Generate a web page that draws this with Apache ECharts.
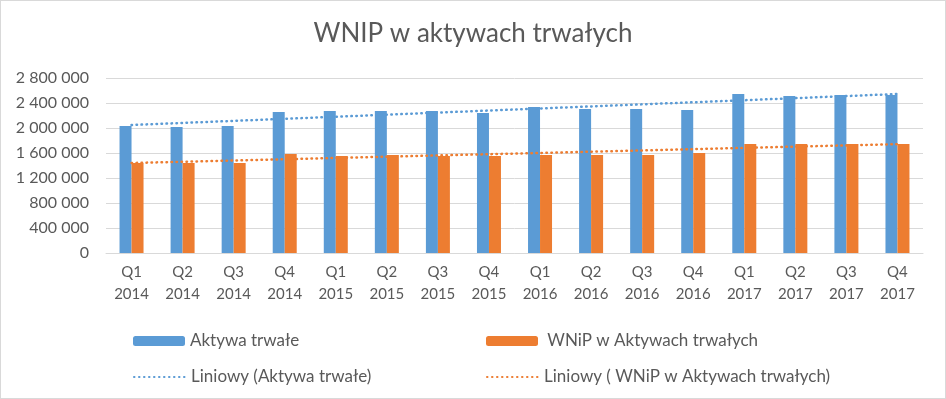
<!DOCTYPE html>
<html>
<head>
<meta charset="utf-8">
<script src="https://cdn.jsdelivr.net/npm/echarts@6/dist/echarts.min.js"></script>
<style>
html,body{margin:0;padding:0;background:#fff;}
#c{width:946px;height:399px;box-sizing:border-box;border:1px solid #D9D9D9;}
</style>
</head>
<body>
<div id="c"></div>
<script>
const categories = ['Q1\n2014','Q2\n2014','Q3\n2014','Q4\n2014','Q1\n2015','Q2\n2015','Q3\n2015','Q4\n2015','Q1\n2016','Q2\n2016','Q3\n2016','Q4\n2016','Q1\n2017','Q2\n2017','Q3\n2017','Q4\n2017'];
const aktywa = [2032000,2016000,2032000,2256000,2272000,2272000,2272000,2240000,2336000,2304000,2304000,2288000,2544000,2512000,2528000,2528000];
const wnip = [1440000,1440000,1440000,1584000,1552000,1568000,1552000,1552000,1568000,1568000,1568000,1600000,1744000,1744000,1744000,1744000];
// trend line end points (first and last quarter)
const trendAktywa = [2048000, 2544000];
const trendWnip = [1440000, 1742000];

const names = ['Aktywa trwałe',' WNiP w Aktywach trwałych','Liniowy (Aktywa trwałe)','Liniowy ( WNiP w Aktywach trwałych)'];
const BLUE = '#5B9BD5', ORANGE = '#ED7D31', TXT = '#595959', FONT = 'Lato';

function endsOnly(pair){
  return categories.map((c,i)=> i===0 ? pair[0] : (i===categories.length-1 ? pair[1] : null));
}
function fmt(v){ return String(v).replace(/\B(?=(\d{3})+(?!\d))/g,' '); }

const legendBase = {
  orient:'horizontal', itemWidth:52, itemHeight:10, itemGap:0,
  textStyle:{color:TXT, fontFamily:FONT, fontSize:17, lineHeight:20},
  selectedMode:false
};
const lineLegend = {itemStyle:{opacity:0}};

const chart = echarts.init(document.getElementById('c'));
chart.setOption({
  animation:false,
  title:{text:'WNIP w aktywach trwałych', left:'center', top:15,
    textStyle:{color:TXT, fontFamily:FONT, fontWeight:'normal', fontSize:26}},
  legend:[
    Object.assign({}, legendBase, {data:[names[0]], left:127, top:325}),
    Object.assign({}, legendBase, {data:[names[1]], left:480, top:325}),
    Object.assign({}, legendBase, lineLegend, {data:[names[2]], left:127, top:361}),
    Object.assign({}, legendBase, lineLegend, {data:[names[3]], left:480, top:361})
  ],
  grid:{left:105, right:22, top:77, bottom:145, containLabel:false},
  xAxis:{type:'category', data:categories,
    axisLine:{lineStyle:{color:'#D9D9D9', width:1}},
    axisTick:{show:false},
    axisLabel:{color:TXT, fontFamily:FONT, fontSize:15, lineHeight:22, margin:8, interval:0}},
  yAxis:{type:'value', min:0, max:2800000, interval:400000,
    axisLine:{show:false}, axisTick:{show:false},
    splitLine:{lineStyle:{color:'#D9D9D9', width:1}},
    axisLabel:{color:TXT, fontFamily:FONT, fontSize:16, margin:17, formatter:v=>fmt(v)}},
  series:[
    {name:names[0], type:'bar', data:aktywa, barWidth:12, barGap:'0%', itemStyle:{color:BLUE}},
    {name:names[1], type:'bar', data:wnip, barWidth:12, barGap:'0%', itemStyle:{color:ORANGE}},
    {name:names[2], type:'line', data:endsOnly(trendAktywa), connectNulls:true, symbol:'none',
      lineStyle:{color:BLUE, width:2.5, type:[0.5,4.5], cap:'round'}, itemStyle:{color:BLUE}, z:5},
    {name:names[3], type:'line', data:endsOnly(trendWnip), connectNulls:true, symbol:'none',
      lineStyle:{color:ORANGE, width:2.5, type:[0.5,4.5], cap:'round'}, itemStyle:{color:ORANGE}, z:5}
  ]
});
</script>
</body>
</html>
